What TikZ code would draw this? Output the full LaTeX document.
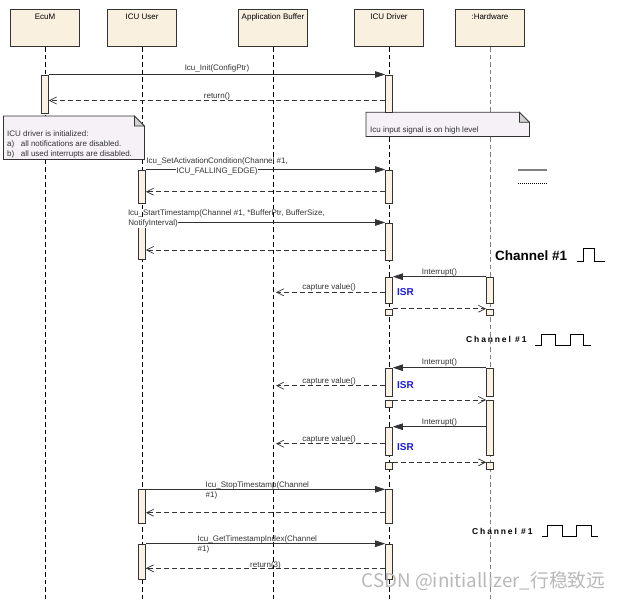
\documentclass[tikz,border=0pt]{standalone}
\usepackage{fontspec}
\setmainfont{Liberation Sans}
\newfontfamily\spacedfont[LetterSpace=22]{Liberation Sans}
\newfontfamily\cjkfont{Noto Sans CJK SC}
\usepackage{tikz}
\usetikzlibrary{arrows.meta}
\definecolor{lifebox}{RGB}{250,240,224}
\definecolor{barfill}{RGB}{251,242,230}
\definecolor{notefill}{RGB}{245,241,246}
\definecolor{linegray}{RGB}{51,51,51}
\definecolor{isrblue}{RGB}{25,25,230}
\setlength{\fboxsep}{0.4pt}
\tikzset{head box/.style = {%
  draw = linegray,
  fill = lifebox,
  line width = 0.8pt,
  inner sep = 0pt,
  minimum width = 69pt,
  minimum height = 37.5pt,
  text height = 10pt,
  text depth = 27.5pt,
  font = \fontsize{8}{10}\selectfont
 },
 life line/.style = {draw = black, line width = 0.6pt, dash pattern = on 4.5pt off 3pt},
 act bar/.style = {draw = linegray, fill = barfill, line width = 0.7pt,
  inner sep = 0pt, minimum width = 7pt},
 call/.style = {draw = linegray, line width = 0.7pt, -{Triangle[length=10pt,width=6.5pt]}},
 reply/.style = {draw = linegray, line width = 0.7pt, dash pattern = on 5pt off 3pt,
  -{Straight Barb[length=7pt,width=7pt]}},
 msg/.style = {font = \fontsize{8}{10}\selectfont, text = linegray, inner sep = 0pt},
 note box/.style = {inner sep = 0pt, anchor = north west},
 note line/.style = {draw = linegray, line width = 0.7pt},
 isr/.style = {font = \fontsize{10}{12}\selectfont\bfseries, text = isrblue, inner sep = 0pt},
 chan big/.style = {font = \fontsize{13.5}{15}\selectfont\bfseries, inner sep = 0pt},
 chan spaced/.style = {font = \spacedfont\fontsize{8.5}{10}\selectfont\bfseries, inner sep = 0pt},
 wave/.style = {draw = black, line width = 0.9pt},
 watermark/.style = {font = \cjkfont\fontsize{18.8}{22}\selectfont, text = black!28, inner sep = 0pt}
}
\newcommand\foldnote[1]{%
  \filldraw[note line, fill = notefill] (#1.south west) -- (#1.north west)
    -- ([xshift=-10pt]#1.north east) -- ([yshift=-10pt]#1.north east)
    -- (#1.south east) -- cycle;
  \filldraw[note line, fill = black!18] ([xshift=-10pt]#1.north east)
    -- ([xshift=-10pt,yshift=-10pt]#1.north east) -- ([yshift=-10pt]#1.north east) -- cycle;
}

\begin{document}
\begin{tikzpicture}[x=1pt,y=-1pt]
  \useasboundingbox (0,0) rectangle (622,600);

  \node[head box] (ecu) at (45,27.9) {EcuM};
  \node[head box] (usr) at (142,27.9) {ICU User};
  \node[head box] (buf) at (273,27.9) {Application Buffer};
  \node[head box] (drv) at (389,27.9) {ICU Driver};
  \node[head box] (hw) at (490,27.9) {:Hardware};
  \coordinate (bottom) at (0,600);
  \foreach \l in {ecu,usr,buf,drv}
    \draw[life line] (\l.south) -- (\l.south |- bottom);
  \draw[life line, draw = gray] (hw.south) -- (hw.south |- bottom);

  % notes
  \node[note box, minimum width=140.5pt, minimum height=43pt] (noteInit) at (3.5,116) {};
  \foldnote{noteInit}
  \node[msg, align=left, anchor=north west] (noteInitTxt) at (7,130.2)
    {ICU driver is initialized:\\a)\hspace{6.5pt}all notifications are disabled.\\b)\hspace{6.5pt}all used interrupts are disabled.};
  \node[note box, minimum width=163pt, minimum height=23.7pt] (noteHigh) at (366,112.3) {};
  \foldnote{noteHigh}
  \node[msg, anchor=base west] (noteHighTxt) at (370,132) {Icu input signal is on high level};

  % activations
  \foreach \n/\l/\t/\h in {ecuA/ecu/74.5/38, drvA/drv/74.5/37.8,
      usrB/usr/169.5/33.3, drvB/drv/169.5/33.5,
      usrC/usr/222.5/36.5, drvC/drv/222.5/37.5,
      hwD/hw/276.7/26.6, drvD/drv/276.7/26.6, drvDs/drv/308.7/6.3, hwDs/hw/308.7/6.3,
      hwE/hw/367.7/28.3, drvE/drv/367.7/28.3, drvEs/drv/400/6.7, hwF/hw/400/55,
      drvF/drv/426.7/28.3, drvFs/drv/462.3/7, hwFs/hw/462.3/7,
      usrG/usr/489.3/33.7, drvG/drv/489.3/33.7,
      usrH/usr/543.7/35.3, drvH/drv/543.7/35.3}
    \node[act bar, minimum height=\h, anchor=north] (\n) at (\l |- 0,\t) {};

  % init
  \draw[call] (ecuA.north east) -- (drvA.north west)
    node[msg, midway, anchor=base, yshift=4.5pt] (initLbl) {Icu\_Init(ConfigPtr)};
  \draw[reply] ([yshift=-26pt]drvA.north west) -- ([yshift=-26pt]ecuA.north east)
    node[msg, midway, anchor=base, yshift=1.8pt] (initRet) {return()};

  % start up
  \draw[call] (usrB.north east) -- (drvB.north west);
  \node[msg, align=center, anchor=north west] (setLbl) at (146.2,157.3)
    {Icu\_SetActivationCondition(Channel \#1,\\\colorbox{white}{ICU\_FALLING\_EDGE)}};
  \draw[reply] ([yshift=-22.2pt]drvB.north west) -- ([yshift=-22.2pt]usrB.north east);
  \draw[call] (usrC.north east) -- (drvC.north west);
  \node[msg, align=left, anchor=north west] (startLbl) at (127.8,209.5)
    {Icu\_StartTimestamp(Channel \#1, *BufferPtr, BufferSize,\\\colorbox{white}{NotifyInterval)}};
  \draw[reply] ([yshift=-27.5pt]drvC.north west) -- ([yshift=-27.5pt]usrC.north east);

  \coordinate (legA) at (518,170);
  \coordinate (legB) at (546.7,170);
  \coordinate (legC) at (518,183.3);
  \coordinate (legD) at (546.7,183.3);
  \draw[draw=gray, line width=1.1pt] (legA) -- (legB);
  \draw[draw=black, line width=1.4pt, dash pattern=on 1pt off 1pt] (legC) -- (legD);

  % interrupts
  \node[chan big, anchor=base west] (chanA) at (495,260) {Channel \#1};
  \draw[wave] (577.3,261) -| (583.7,248.3) -| (594.3,261) -- (605,261);
  \draw[call] (hwD.north west) -- (drvD.north east)
    node[msg, midway, anchor=base, yshift=2.7pt] (irqLblD) {Interrupt()};
  \coordinate (capD) at ([yshift=-15.6pt]drvD.north west);
  \draw[reply, shorten >=3pt] (capD) -- (capD -| buf)
    node[msg, midway, anchor=base, yshift=2.6pt] (capLblD) {capture value()};
  \node[isr, anchor=west] (isrD) at (397,292.3) {ISR};
  \draw[reply] (drvDs.north east) -- (hwDs.north west);

  \node[chan spaced, anchor=base west] (chanB) at (466,342.7) {Channel \#1};
  \draw[wave] (535,345) -| (541,334) -| (555,345) -| (570,334) -| (583,345) -- (591,345);
  \draw[call] (hwE.north west) -- (drvE.north east)
    node[msg, midway, anchor=base, yshift=3pt] (irqLblE) {Interrupt()};
  \coordinate (capE) at ([yshift=-18pt]drvE.north west);
  \draw[reply, shorten >=3pt] (capE) -- (capE -| buf)
    node[msg, midway, anchor=base, yshift=2.7pt] (capLblE) {capture value()};
  \node[isr, anchor=west] (isrE) at (397,385) {ISR};
  \draw[reply] (drvEs.north east) -- (hwF.north west);

  \draw[call] ([yshift=-26.7pt]hwF.north west) -- (drvF.north east)
    node[msg, midway, anchor=base, yshift=2.7pt] (irqLblF) {Interrupt()};
  \coordinate (capF) at ([yshift=-17pt]drvF.north west);
  \draw[reply, shorten >=3pt] (capF) -- (capF -| buf)
    node[msg, midway, anchor=base, yshift=2.6pt] (capLblF) {capture value()};
  \node[isr, anchor=west] (isrF) at (397,446.7) {ISR};
  \draw[reply] (drvFs.north east) -- (hwFs.north west);

  % stop
  \draw[call] (usrG.north east) -- (drvG.north west);
  \node[msg, align=left, anchor=north west] (stopLbl) at (205.5,481.8)
    {Icu\_StopTimestamp(Channel\\\#1)};
  \draw[reply] ([yshift=-23.4pt]drvG.north west) -- ([yshift=-23.4pt]usrG.north east);

  \node[chan spaced, anchor=base west] (chanC) at (472,534) {Channel \#1};
  \draw[wave] (541.7,536.7) -| (547.7,525) -| (562,536.7) -| (576.7,525) -| (591,536.7) -- (597.7,536.7);
  \draw[call] (usrH.north east) -- (drvH.north west);
  \node[msg, align=left, anchor=north west] (getLbl) at (197.5,535.3)
    {Icu\_GetTimestampIndex(Channel\\\#1)};
  \draw[reply] ([yshift=-24.6pt]drvH.north west) -- ([yshift=-24.6pt]usrH.north east)
    node[msg, midway, anchor=base, yshift=1.3pt] (getRet) {return(3)};

  \node[watermark, anchor=west] (wm) at (361.5,581) {CSDN @initiallizer\_行稳致远};
\end{tikzpicture}
\end{document}
